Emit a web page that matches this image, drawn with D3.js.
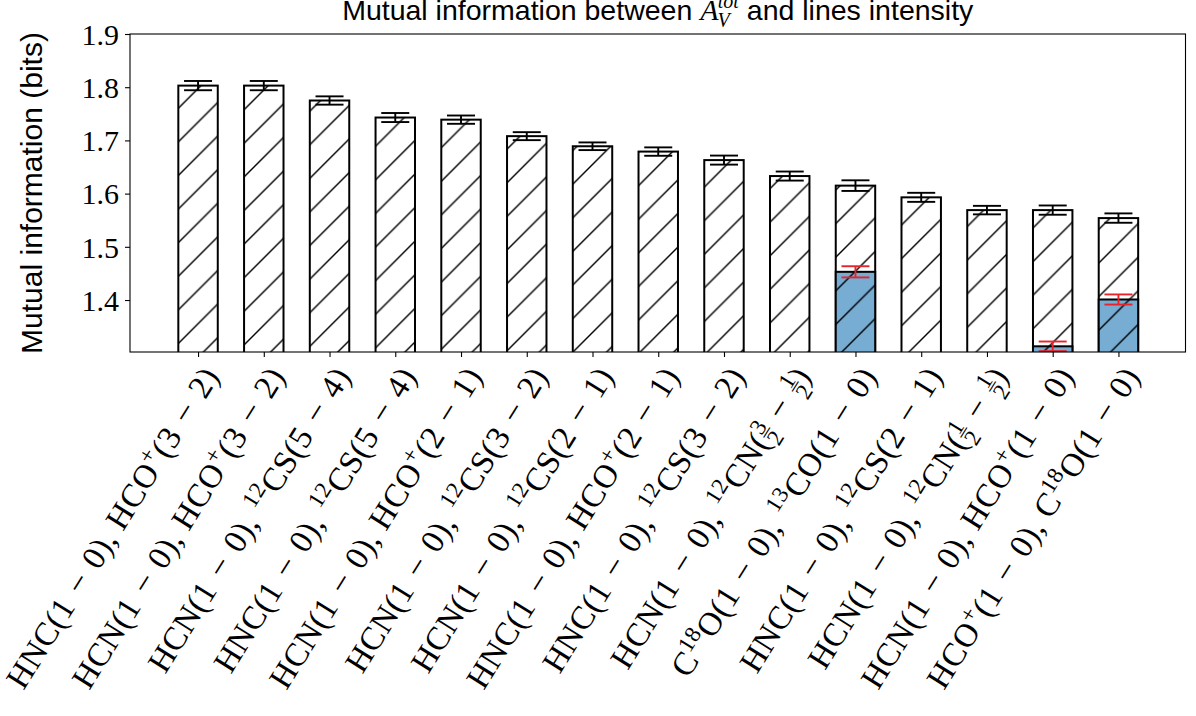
<!DOCTYPE html>
<html>
<head>
<meta charset="utf-8">
<script src="https://cdn.jsdelivr.net/npm/d3@7"></script>
<style>
  html, body { margin: 0; padding: 0; background: #fff; }
  svg { display: block; }
</style>
</head>
<body>
<svg id="chart" width="1196" height="716"></svg>
<script>
// ---------------- data ----------------
const categories = [
  "HNC(1 − 0), HCO^{+}(3 − 2)",
  "HCN(1 − 0), HCO^{+}(3 − 2)",
  "HCN(1 − 0), ^{12}CS(5 − 4)",
  "HNC(1 − 0), ^{12}CS(5 − 4)",
  "HCN(1 − 0), HCO^{+}(2 − 1)",
  "HCN(1 − 0), ^{12}CS(3 − 2)",
  "HCN(1 − 0), ^{12}CS(2 − 1)",
  "HNC(1 − 0), HCO^{+}(2 − 1)",
  "HNC(1 − 0), ^{12}CS(3 − 2)",
  "HCN(1 − 0), ^{12}CN(\\frac{3}{2} − \\frac{1}{2})",
  "C^{18}O(1 − 0), ^{13}CO(1 − 0)",
  "HNC(1 − 0), ^{12}CS(2 − 1)",
  "HCN(1 − 0), ^{12}CN(\\frac{1}{2} − \\frac{1}{2})",
  "HCN(1 − 0), HCO^{+}(1 − 0)",
  "HCO^{+}(1 − 0), C^{18}O(1 − 0)"
];
const values = [1.803, 1.803, 1.775, 1.743, 1.739, 1.708, 1.689, 1.679, 1.663, 1.633, 1.615, 1.593, 1.569, 1.569, 1.554];
const errors = [0.0087, 0.0087, 0.0078, 0.0085, 0.0078, 0.0075, 0.0072, 0.0079, 0.0085, 0.0085, 0.0100, 0.0085, 0.0080, 0.0087, 0.0088];
const subsetValues = [null, null, null, null, null, null, null, null, null, null, 1.453, null, null, 1.313, 1.401];
const subsetErrors = [null, null, null, null, null, null, null, null, null, null, 0.0105, null, null, 0.0090, 0.0095];
const yTicks = [1.4, 1.5, 1.6, 1.7, 1.8, 1.9];
const yLabel = "Mutual information (bits)";
const titleParts = ["Mutual information between ", "A", "V", "tot", " and lines intensity"];

// ---------------- layout ----------------
const svg = d3.select("#chart");
const L = 130, R = 1185.5, T = 34, B = 352;
const x = d3.scaleLinear().domain([-1.035, 15.02]).range([L, R]);
const y = d3.scaleLinear().domain([1.3023, 1.9]).range([B, T]);
const barW = x(0.6) - x(0);
const SERIF = "'Liberation Serif', 'Times New Roman', serif";
const SANS = "'Liberation Sans', Arial, sans-serif";
const BLUE = "#77acd3";

const defs = svg.append("defs");
const s = 33.6;
const pat = defs.append("pattern")
  .attr("id", "hatch").attr("patternUnits", "userSpaceOnUse")
  .attr("x", 17.8).attr("y", 0).attr("width", s).attr("height", s);
pat.append("path")
  .attr("d", `M0,${s} L${s},0 M${-s/2},${s/2} L${s/2},${-s/2} M${s/2},${s*1.5} L${s*1.5},${s/2}`)
  .attr("stroke", "#000").attr("stroke-width", 1.4).attr("fill", "none");
defs.append("clipPath").attr("id", "axclip")
  .append("rect").attr("x", L).attr("y", T).attr("width", R - L).attr("height", B - T);

const plot = svg.append("g").attr("clip-path", "url(#axclip)");

const main = values.map((v, i) => ({ i, v, e: errors[i] }));
const sub = subsetValues.map((v, i) => ({ i, v, e: subsetErrors[i] })).filter(d => d.v !== null);

function drawBars(data, fill, cls) {
  const g = plot.append("g").attr("class", cls);
  const sel = g.selectAll("g.bar").data(data).join("g").attr("class", "bar");
  sel.append("rect")
    .attr("x", d => x(d.i) - barW / 2).attr("width", barW)
    .attr("y", d => y(d.v)).attr("height", d => y(1.3023) + 4 - y(d.v))
    .attr("fill", fill);
  sel.append("rect")
    .attr("x", d => x(d.i) - barW / 2).attr("width", barW)
    .attr("y", d => y(d.v)).attr("height", d => y(1.3023) + 4 - y(d.v))
    .attr("fill", "url(#hatch)").attr("stroke", "#000").attr("stroke-width", 2);
}
function drawErr(data, color) {
  const g = svg.append("g");
  const sel = g.selectAll("g.err").data(data).join("g").attr("class", "err")
    .attr("stroke", color).attr("stroke-width", 1.9).attr("fill", "none");
  sel.append("line").attr("x1", d => x(d.i)).attr("x2", d => x(d.i))
    .attr("y1", d => y(d.v - d.e)).attr("y2", d => y(d.v + d.e));
  sel.append("line").attr("x1", d => x(d.i) - 14).attr("x2", d => x(d.i) + 14)
    .attr("y1", d => y(d.v + d.e)).attr("y2", d => y(d.v + d.e));
  sel.append("line").attr("x1", d => x(d.i) - 14).attr("x2", d => x(d.i) + 14)
    .attr("y1", d => y(d.v - d.e)).attr("y2", d => y(d.v - d.e));
}
drawBars(main, "#fff", "main");
drawErr(main, "#000");
drawBars(sub, BLUE, "sub");
drawErr(sub, "#e8242a");

// spine
svg.append("rect").attr("x", L).attr("y", T).attr("width", R - L).attr("height", B - T)
  .attr("fill", "none").attr("stroke", "#000").attr("stroke-width", 1.1);

// y axis
const yAxis = svg.append("g").attr("transform", `translate(${L},0)`)
  .call(d3.axisLeft(y).tickValues(yTicks).tickFormat(d3.format(".1f")).tickSize(5).tickPadding(6));
yAxis.select(".domain").remove();
yAxis.selectAll(".tick line").attr("stroke", "#000").attr("stroke-width", 1.1);
yAxis.selectAll(".tick text").attr("font-family", SERIF).attr("font-size", 30).attr("fill", "#000").attr("dy", "0.34em");

// x axis ticks
const xAxis = svg.append("g").attr("transform", `translate(0,${B})`)
  .call(d3.axisBottom(x).tickValues(d3.range(categories.length)).tickFormat("").tickSize(5));
xAxis.select(".domain").remove();
xAxis.selectAll(".tick line").attr("stroke", "#000").attr("stroke-width", 1.1);

// x labels (rotated, anchored at top-right)
const F = 33;
function addRich(text, str) {
  const re = /\^\{([^}]*)\}|\\frac\{([^}]*)\}\{([^}]*)\}|([^\^\\]+)/g;
  let m, cur = 0;
  const f = 0.7 * F;
  while ((m = re.exec(str)) !== null) {
    if (m[1] !== undefined) {
      const b = -0.38 * F;
      text.append("tspan").attr("font-size", f).attr("dy", b - cur).text(m[1]);
      cur = b;
    } else if (m[2] !== undefined) {
      const nb = -0.34 * F, bb = -0.10 * F, db = 0.28 * F, w = 0.5 * f + 0.5;
      text.append("tspan").attr("font-size", f).attr("dy", nb - cur).text(m[2]);
      text.append("tspan").attr("font-size", f).attr("dx", -w).attr("dy", bb - nb).text("–");
      text.append("tspan").attr("font-size", f).attr("dx", -w).attr("dy", db - bb).text(m[3]);
      cur = db;
    } else {
      const txt = m[4].replace(/ − /g, "\u2004−\u2004");
      text.append("tspan").attr("font-size", F).attr("dy", 0 - cur).text(txt);
      cur = 0;
    }
  }
}
const labG = svg.append("g");
categories.forEach((c, i) => {
  const g = labG.append("g").attr("transform", `translate(${x(i)},${B + 10}) rotate(-58)`);
  const t = g.append("text").attr("text-anchor", "end").attr("font-family", SERIF)
    .attr("font-size", F).attr("fill", "#000").attr("y", 0.8 * F).attr("letter-spacing", 0.5);
  addRich(t, c);
});

// y label
svg.append("text")
  .attr("transform", `translate(42,${(T + B) / 2}) rotate(-90)`)
  .attr("text-anchor", "middle").attr("font-family", SANS).attr("font-size", 30).attr("fill", "#000")
  .text(yLabel);

// title
const title = svg.append("text").attr("x", (L + R) / 2).attr("y", 20)
  .attr("text-anchor", "middle").attr("font-family", SANS).attr("font-size", 28.5).attr("fill", "#000");
title.append("tspan").text(titleParts[0]);
title.append("tspan").attr("font-family", SERIF).attr("font-style", "italic").attr("font-size", 30).text(titleParts[1]);
title.append("tspan").attr("font-family", SERIF).attr("font-style", "italic").attr("font-size", 20).attr("dy", 7).attr("dx", -1).text(titleParts[2]);
title.append("tspan").attr("font-family", SERIF).attr("font-style", "italic").attr("font-size", 20).attr("dy", -19).attr("dx", -12).text(titleParts[3]);
title.append("tspan").attr("dy", 12).text(titleParts[4]);
</script>
</body>
</html>
